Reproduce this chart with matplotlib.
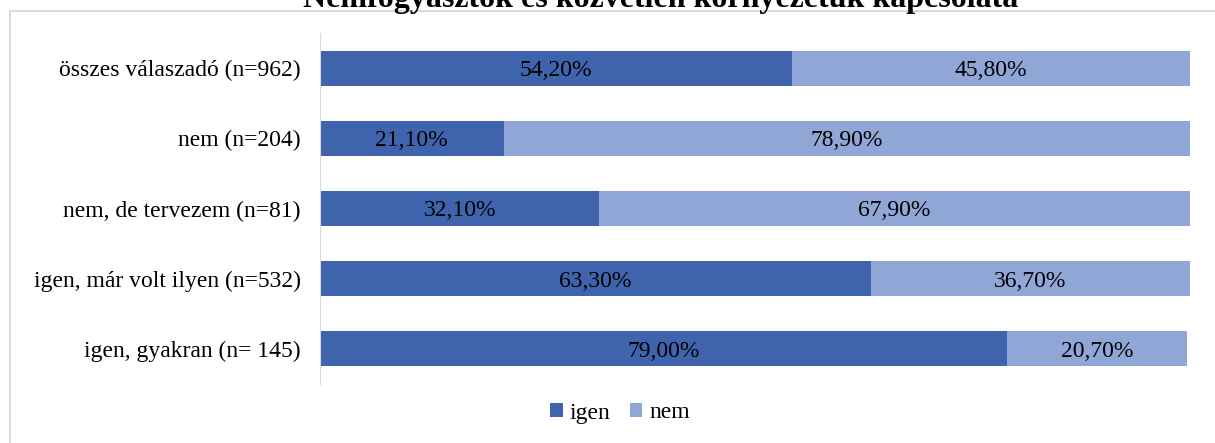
import matplotlib.pyplot as plt
from matplotlib.patches import Rectangle

categories = ["összes válaszadó (n=962)", "nem (n=204)", "nem, de tervezem (n=81)",
              "igen, már volt ilyen (n=532)", "igen, gyakran (n= 145)"]
igen = [54.2, 21.1, 32.1, 63.3, 79.0]
nem = [45.8, 78.9, 67.9, 36.7, 20.7]
title = "Nemfogyasztók és közvetlen környezetük kapcsolata"

c_igen = "#3F64AD"
c_nem = "#8FA6D6"

plt.rcParams['font.family'] = ['Liberation Serif', 'DejaVu Serif']

fig = plt.figure(figsize=(12.15, 4.43), dpi=100)
ax = fig.add_axes([320 / 1215, 59 / 443, 870 / 1215, 351 / 443])

# frame around the chart area (right side runs off the picture)
fig.patches.append(Rectangle((10 / 1215, -0.01), 1.0, (443 - 11) / 443 + 0.01,
                             transform=fig.transFigure, fill=False,
                             edgecolor="#D9D9D9", linewidth=1.4))

y = list(range(len(categories)))[::-1]
ax.barh(y, igen, height=0.5, color=c_igen, label="igen")
ax.barh(y, nem, left=igen, height=0.5, color=c_nem, label="nem")

def fmt(v):
    return f"{v:.2f}%".replace(".", ",")

for yi, a, b in zip(y, igen, nem):
    ax.text(a / 2, yi, fmt(a), ha="center", va="center_baseline", fontsize=17, color="black")
    ax.text(a + b / 2, yi, fmt(b), ha="center", va="center_baseline", fontsize=17, color="black")

ax.set_xlim(0, 100)
ax.set_ylim(-0.5, 4.5)
ax.set_yticks(y)
ax.set_yticklabels(categories, fontsize=17)
ax.tick_params(axis="y", length=0, pad=14)
ax.set_xticks([])
for s in ["top", "right", "bottom"]:
    ax.spines[s].set_visible(False)
ax.spines["left"].set_color("#D9D9D9")

fig.text(661 / 1215, (443 - 7) / 443, title, ha="center", va="baseline",
         fontsize=23, fontweight="bold")

ax.legend(loc="center", bbox_to_anchor=(620 / 1215, 1 - 413 / 443),
          bbox_transform=fig.transFigure, ncol=2, frameon=False, fontsize=17,
          handlelength=0.55, handleheight=0.55, handletextpad=0.3, columnspacing=0.8)

fig.savefig("out.png", dpi=100)
